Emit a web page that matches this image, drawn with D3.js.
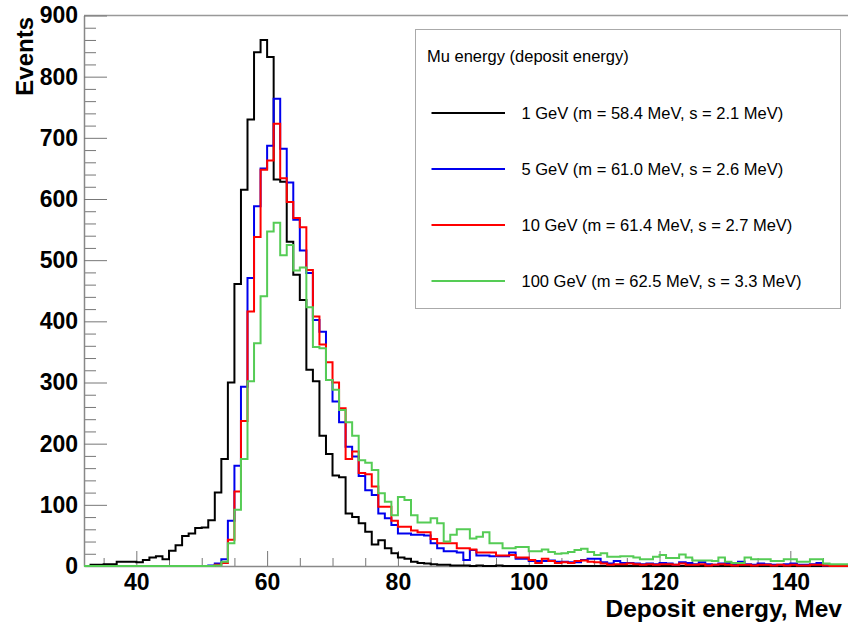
<!DOCTYPE html>
<html>
<head>
<meta charset="utf-8">
<script src="https://d3js.org/d3.v7.min.js"></script>
<style>
  body { margin: 0; background: #fff; }
  text { font-family: "Liberation Sans", Arial, sans-serif; }
</style>
</head>
<body>
<div id="chart"></div>
<script>
// bins are 1 MeV wide, first bin is [32, 33)
const firstEdge = 32;

const gev1 = [
  0, 2, 2, 3, 3, 7, 7, 7, 6, 10,
  14, 16, 11, 25, 34, 49, 53, 62, 63, 75,
  120, 175, 300, 461, 615, 730, 840, 860, 832, 632,
  628, 530, 476, 435, 321, 302, 213, 183, 148, 145,
  86, 80, 70, 56, 35, 42, 29, 21, 14, 12,
  7, 5, 4, 3, 2, 2, 1, 1, 1, 0,
  1, 0, 0, 1, 0, 0, 0, 0, 0, 0,
  0, 0, 0, 0, 0, 0, 0, 0, 0, 0,
  0, 0, 0, 0, 0, 0, 0, 0, 0, 0,
  0, 0, 0, 0, 0, 0, 0, 0, 0, 0,
  0, 0, 0, 0, 0, 0, 0, 0, 0, 0,
  0, 0, 0, 0, 0, 0, 0
];

const gev5 = [
  0, 0, 0, 0, 0, 0, 0, 0, 0, 0,
  0, 0, 0, 0, 0, 0, 0, 0, 0, 1,
  4, 11, 74, 164, 293, 471, 588, 650, 687, 764,
  682, 627, 566, 516, 479, 402, 383, 304, 269, 235,
  195, 179, 147, 124, 116, 86, 78, 67, 53, 53,
  51, 51, 50, 37, 29, 24, 24, 22, 10, 26,
  17, 17, 16, 16, 16, 22, 12, 12, 8, 8,
  8, 9, 7, 7, 6, 6, 10, 12, 12, 6,
  4, 8, 5, 5, 4, 3, 4, 3, 5, 4,
  2, 6, 5, 3, 6, 3, 2, 4, 5, 2,
  7, 3, 2, 4, 3, 2, 2, 3, 4, 2,
  2, 3, 5, 1, 1, 1, 1
];

const gev10 = [
  0, 0, 0, 0, 0, 0, 0, 0, 0, 0,
  0, 0, 0, 0, 0, 0, 0, 0, 0, 0,
  2, 5, 43, 122, 237, 416, 538, 648, 663, 723,
  634, 595, 569, 554, 484, 408, 362, 333, 300, 258,
  175, 187, 152, 150, 130, 97, 97, 74, 64, 64,
  58, 55, 55, 44, 37, 37, 37, 29, 29, 27,
  22, 22, 22, 17, 17, 18, 14, 14, 10, 5,
  12, 8, 5, 6, 5, 8, 9, 7, 6, 4,
  2, 3, 3, 4, 3, 2, 3, 2, 3, 3,
  2, 4, 2, 2, 3, 1, 2, 3, 2, 1,
  2, 2, 1, 2, 2, 1, 2, 1, 2, 1,
  1, 2, 2, 1, 0, 0, 0
];

const gev100 = [
  0, 0, 0, 0, 0, 0, 0, 0, 0, 0,
  0, 0, 0, 0, 0, 0, 0, 0, 0, 0,
  1, 7, 37, 92, 175, 302, 364, 441, 547, 561,
  508, 525, 483, 488, 423, 358, 356, 304, 288, 255,
  235, 213, 173, 169, 157, 119, 105, 83, 113, 108,
  83, 71, 71, 78, 70, 40, 51, 60, 60, 45,
  48, 55, 37, 37, 29, 29, 31, 31, 24, 24,
  27, 23, 20, 21, 23, 26, 28, 23, 18, 21,
  15, 15, 16, 16, 14, 11, 11, 15, 18, 13,
  13, 19, 14, 9, 9, 9, 8, 14, 7, 5,
  5, 14, 11, 11, 11, 8, 8, 11, 11, 7,
  7, 11, 11, 4, 3, 3, 3
];

const seriesNames = [
  '1 GeV (m = 58.4 MeV, s = 2.1 MeV)',
  '5 GeV (m = 61.0 MeV, s = 2.6 MeV)',
  '10 GeV (m = 61.4 MeV, s = 2.7 MeV)',
  '100 GeV (m = 62.5 MeV, s = 3.3 MeV)'
];
const seriesColors = ['#000000', '#0000ee', '#ff0000', '#55cc55'];
const seriesValues = [gev1, gev5, gev10, gev100];

const xTicks = [40, 60, 80, 100, 120, 140];
const yTicks = [0, 100, 200, 300, 400, 500, 600, 700, 800, 900];

let width = 848, height = 622;
let padLeft = 84, padTop = 15.5, padBottom = 566;

let x = d3.scaleLinear().domain([32, 149]).range([padLeft, padLeft + 117 * 6.54]);
let y = d3.scaleLinear().domain([0, 900]).range([padBottom, padTop]);

let svg = d3.select('#chart').append('svg')
    .attr('width', width)
    .attr('height', height);

svg.append('defs').append('clipPath')
    .attr('id', 'plotclip')
  .append('rect')
    .attr('x', padLeft)
    .attr('y', padTop - 2)
    .attr('width', width - padLeft)
    .attr('height', padBottom - padTop + 4);

// frame top line
svg.append('line')
    .attr('x1', padLeft).attr('x2', width)
    .attr('y1', padTop).attr('y2', padTop)
    .attr('stroke', '#999').attr('stroke-width', 1.5);

// minor ticks
let yMinor = d3.range(0, 901, 20).filter(v => v % 100 !== 0);
let xMinor = d3.range(35, 149, 5).filter(v => v % 20 !== 0);

svg.append('g')
    .attr('transform', `translate(${padLeft},0)`)
    .call(d3.axisLeft(y).tickValues(yMinor).tickSize(-12).tickSizeOuter(0).tickFormat(''))
    .call(g => g.select('.domain').remove())
    .selectAll('line').attr('stroke', '#777');

svg.append('g')
    .attr('transform', `translate(0,${padBottom})`)
    .call(d3.axisBottom(x).tickValues(xMinor).tickSize(-8).tickSizeOuter(0).tickFormat(''))
    .call(g => g.select('.domain').remove())
    .selectAll('line').attr('stroke', '#777');

// major ticks + labels
let yAxis = svg.append('g')
    .attr('transform', `translate(${padLeft},0)`)
    .call(d3.axisLeft(y).tickValues(yTicks).tickSize(-23).tickSizeOuter(0).tickPadding(6));
yAxis.select('.domain').attr('stroke', '#888').attr('stroke-width', 1.5);
yAxis.selectAll('line').attr('stroke', '#777');
yAxis.selectAll('text')
    .attr('font-size', 23).attr('font-weight', 'bold').attr('fill', '#000')
    .style('font-family', '"Liberation Sans", Arial, sans-serif');

let xAxis = svg.append('g')
    .attr('transform', `translate(0,${padBottom})`)
    .call(d3.axisBottom(x).tickValues(xTicks).tickSize(-15).tickSizeOuter(0).tickPadding(8));
xAxis.select('.domain').attr('stroke', '#888').attr('stroke-width', 1.5);
xAxis.selectAll('line').attr('stroke', '#777');
xAxis.selectAll('text')
    .attr('font-size', 23).attr('font-weight', 'bold').attr('fill', '#000')
    .style('font-family', '"Liberation Sans", Arial, sans-serif');

// histograms, drawn in order so green ends on top
let step = d3.line()
    .x(d => x(d.edge))
    .y(d => y(d.value))
    .curve(d3.curveStepAfter);

let plot = svg.append('g').attr('clip-path', 'url(#plotclip)');

seriesValues.forEach(function (vals, i) {
  let pts = vals.map((v, j) => ({edge: firstEdge + j, value: v}));
  pts.push({edge: firstEdge + vals.length, value: vals[vals.length - 1]});
  plot.append('path')
      .attr('d', step(pts))
      .attr('fill', 'none')
      .attr('stroke', seriesColors[i])
      .attr('stroke-width', 2);
});

// axis titles
svg.append('text')
    .attr('transform', 'translate(33,17) rotate(-90)')
    .attr('text-anchor', 'end')
    .attr('font-size', 24)
    .attr('font-weight', 'bold')
    .text('Events');

svg.append('text')
    .attr('x', 842)
    .attr('y', 617)
    .attr('text-anchor', 'end')
    .attr('font-size', 24.5)
    .attr('font-weight', 'bold')
    .text('Deposit energy, Mev');

// legend
let legend = svg.append('g');
legend.append('rect')
    .attr('x', 415.5).attr('y', 29.5)
    .attr('width', 425).attr('height', 279)
    .attr('fill', '#fff')
    .attr('stroke', '#aaa');

legend.append('text')
    .attr('x', 427).attr('y', 62)
    .attr('font-size', 16.5)
    .text('Mu energy (deposit energy)');

let rowY = [113, 169, 225, 281];
seriesNames.forEach(function (name, i) {
  legend.append('line')
      .attr('x1', 431.5).attr('x2', 505)
      .attr('y1', rowY[i]).attr('y2', rowY[i])
      .attr('stroke', seriesColors[i])
      .attr('stroke-width', 2);
  legend.append('text')
      .attr('x', 521.5).attr('y', rowY[i] + 6)
      .attr('font-size', 16.5)
      .text(name);
});
</script>
</body>
</html>
